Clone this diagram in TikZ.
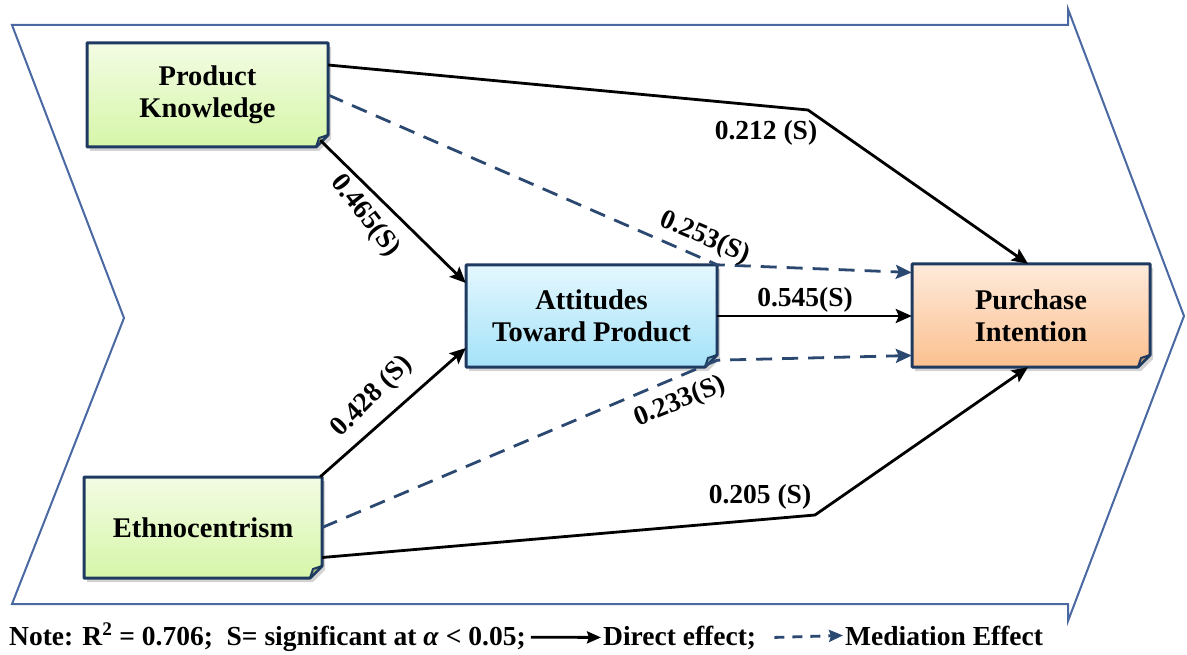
\documentclass[tikz,border=0pt]{standalone}
\usepackage{fontspec}
\setmainfont{Liberation Serif}[BoldFont={Liberation Serif Bold},ItalicFont={Liberation Serif Italic},BoldItalicFont={Liberation Serif Bold Italic}]
\usetikzlibrary{arrows.meta,shadows,calc}
\definecolor{navy}{HTML}{1F3A60}
\definecolor{chevc}{HTML}{4A68A2}
\definecolor{dashc}{HTML}{2B4870}
\definecolor{gtop}{HTML}{F3FCE4}
\definecolor{gbot}{HTML}{D6F6A8}
\definecolor{btop}{HTML}{E4F7FE}
\definecolor{bbot}{HTML}{A4E2F8}
\definecolor{ptop}{HTML}{FEEADB}
\definecolor{pbot}{HTML}{FBC08F}
\newcommand\boxfont{\fontsize{28.5}{32}\selectfont\bfseries}
\newcommand\lblfont{\fontsize{27.5}{30}\selectfont\bfseries}
\newcommand\lgdfont{\fontsize{27.5}{30}\selectfont\bfseries}
\tikzset{
  chev/.style={draw=chevc, line width=2pt, line join=miter},
  boxborder/.style={draw=navy, line width=3pt, line join=round},
  lbl/.style={font=\lblfont, inner sep=1pt},
  lgd/.style={font=\lgdfont, inner sep=2pt},
  direct/.style={draw=black, line width=2.8pt, line join=round,
    -{Stealth[length=16pt,width=14pt,inset=3pt]}},
  mediate/.style={draw=dashc, line width=2.8pt, line join=round,
    dash pattern=on 16pt off 10pt,
    -{Stealth[length=16pt,width=14pt,inset=3pt]}},
}
% name, x1, y1, x2, y2, top colour, bottom colour, text
\newcommand\nbox[8]{%
  \draw[boxborder, top color=#6, bottom color=#7,
    drop shadow={opacity=0.35, shadow xshift=3pt, shadow yshift=-4pt}]
    (#2,#3) -- (#4,#3) -- ([shift={(0,-12)}]#4,#5)
    -- ([shift={(-12,0)}]#4,#5) -- (#2,#5) -- cycle;
  \draw[draw=navy, line width=2pt, line join=round, fill=#7!75!black]
    ([shift={(0,-12)}]#4,#5) .. controls ([shift={(-4,-10)}]#4,#5) .. ([shift={(-9,-9)}]#4,#5)
    .. controls ([shift={(-10,-4)}]#4,#5) .. ([shift={(-12,0)}]#4,#5) -- cycle;
  \node[inner sep=0pt, minimum width={#4pt-#2pt}, minimum height={#5pt-#3pt},
    align=center, font=\boxfont] (#1) at ({(#2+#4)/2},{(#3+#5)/2}) {#8};
}
\begin{document}
\begin{tikzpicture}[x=1pt,y=-1pt]
\useasboundingbox (0,0) rectangle (1187,655);
% chevron background
\draw[chev] (12,25) -- (1068,25) -- (1068,9) -- (1184,316) -- (1068,621)
  -- (1068,604) -- (12,604) -- (124,318) -- cycle;

% boxes
\nbox{pk}{87}{43}{328}{147}{gtop}{gbot}{Product\\Knowledge}
\nbox{eth}{84}{477}{322}{578}{gtop}{gbot}{Ethnocentrism}
\nbox{atp}{466}{265}{717}{367}{btop}{bbot}{Attitudes\\Toward Product}
\nbox{pi}{912}{264}{1150}{367}{ptop}{pbot}{Purchase\\Intention}

% bend points
\coordinate (b1) at (808,110);
\coordinate (b2) at (815,515);

% connectors
\draw[direct] ([yshift=30pt]pk.east) -- (b1) -- ([xshift=-3pt]pi.north);
\draw[mediate] (pk.east) -- (atp.north east) -- ([yshift=43pt]pi.west);
\draw[direct] ([xshift=-8pt,yshift=7pt]pk.south east) -- ([yshift=33pt]atp.west);
\draw[direct] ([xshift=-2pt]eth.north east) -- ([yshift=-32pt]atp.west);
\draw[mediate] (eth.east) -- ([yshift=7pt]atp.south east) -- ([yshift=-40pt]pi.west);
\draw[direct] ([yshift=-30pt]eth.east) -- (b2) -- ([xshift=-3pt]pi.south);
\draw[direct] (atp.east) -- (atp.east -| pi.west);

% labels
\node[lbl, rotate=-52] (l465) at (365,216) {0.465(S)};
\node[lbl, rotate=45] (l428) at (372,397) {0.428 (S)};
\node[lbl, rotate=-23] (l253) at (705,238) {0.253(S)};
\node[lbl, rotate=22] (l233) at (680,402) {0.233(S)};
\node[lbl] (l212) at (766,133) {0.212 (S)};
\node[lbl] (l205) at (760,497) {0.205 (S)};
\node[lbl] (l545) at (805,300) {0.545(S)};

% legend
\node[lgd, anchor=base west] (note) at (7,645)
  {Note: R\textsuperscript{2} = 0.706;\ \ S= significant at \textit{α} < 0.05;};
\node[lgd, anchor=base west] (dlab) at (601,645) {Direct effect;};
\node[lgd, anchor=base west] (mlab) at (843,645) {Mediation Effect};
\draw[draw=black, line width=2.8pt, -{Stealth[length=14pt,width=12pt,inset=2pt]}]
  ([xshift=3pt]note.east) -- (dlab.west);
\draw[draw=dashc, line width=2.8pt, dash pattern=on 10pt off 8pt,
  -{Stealth[length=14pt,width=12pt,inset=2pt]}]
  ([xshift=16pt]dlab.east) -- (mlab.west);
\end{tikzpicture}
\end{document}
